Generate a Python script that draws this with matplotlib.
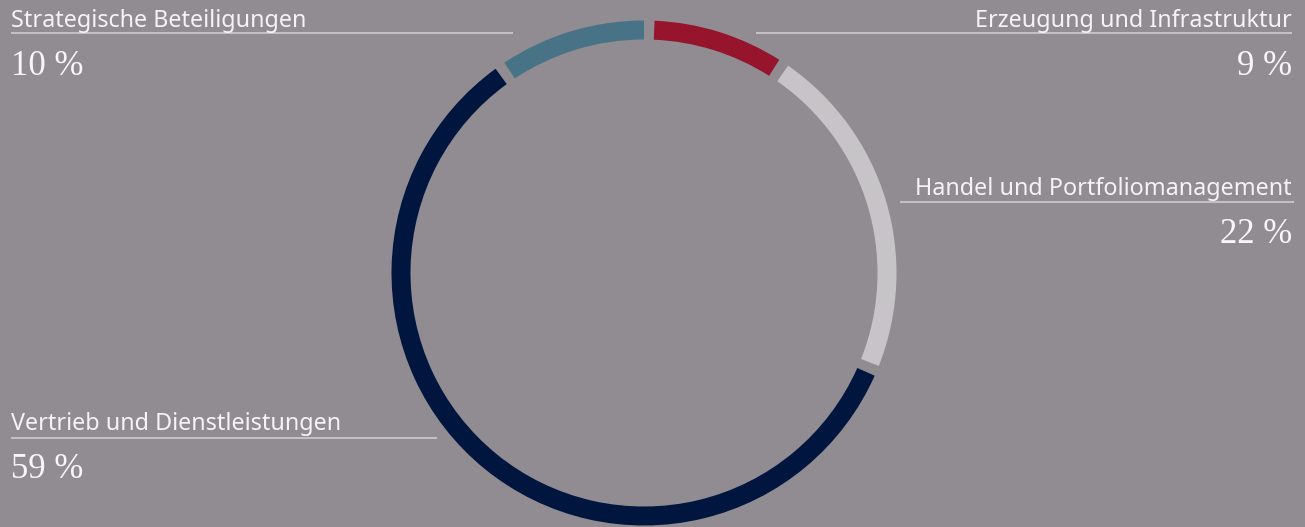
import matplotlib
matplotlib.use("Agg")
import matplotlib.pyplot as plt
import numpy as np

# Segment data (clockwise from 12 o'clock)
segments = ["Erzeugung und Infrastruktur", "Handel und Portfoliomanagement",
            "Vertrieb und Dienstleistungen", "Strategische Beteiligungen"]
shares = [9, 22, 59, 10]
colors = ["#97142d", "#c6c4c7", "#00163f", "#487387"]

BG = "#918c91"
LINE = "#d2d0d3"
W, H = 1305, 527

fig = plt.figure(figsize=(W / 100, H / 100), dpi=100, facecolor=BG)
ax = fig.add_axes([0, 0, 1, 1], facecolor=BG)

center = (644, H - 273)
radius = 252.5
ring = 19
gap_deg = 2.4

wedges, _ = ax.pie(shares, colors=colors, startangle=90, counterclock=False,
                   radius=radius, center=center, frame=True,
                   wedgeprops=dict(width=ring, linewidth=0))
# leave a small gap at the leading end of every segment
for w in wedges:
    w.set_theta2(w.theta2 - gap_deg)

ax.set_xlim(0, W)
ax.set_ylim(0, H)
ax.set_aspect("equal")
ax.axis("off")

label_font = dict(family=["Noto Sans", "DejaVu Sans"], size=16.8, color="#f4f4f4")
pct_font = dict(family=["Liberation Serif", "DejaVu Serif"], size=25, color="#f7f7f7")

# (segment index, text anchor x, alignment, label baseline y, line span, pct baseline y, line y)
layout = [
    (3, 11, "left", 27, (11, 513), 75, 33),
    (0, 1292, "right", 27, (756, 1292), 75, 33),
    (1, 1292, "right", 195, (900, 1294), 243, 202),
    (2, 11, "left", 430, (11, 437), 478, 438),
]

for idx, x, ha, y_lab, (x0, x1), y_pct, y_line in layout:
    ax.text(x, H - y_lab, segments[idx], ha=ha, va="baseline", **label_font)
    ax.plot([x0, x1], [H - y_line, H - y_line], color=LINE, lw=1.1,
            solid_capstyle="butt")
    ax.text(x, H - y_pct, f"{shares[idx]} %", ha=ha, va="baseline", **pct_font)

fig.savefig("out.png", dpi=100, facecolor=BG)
